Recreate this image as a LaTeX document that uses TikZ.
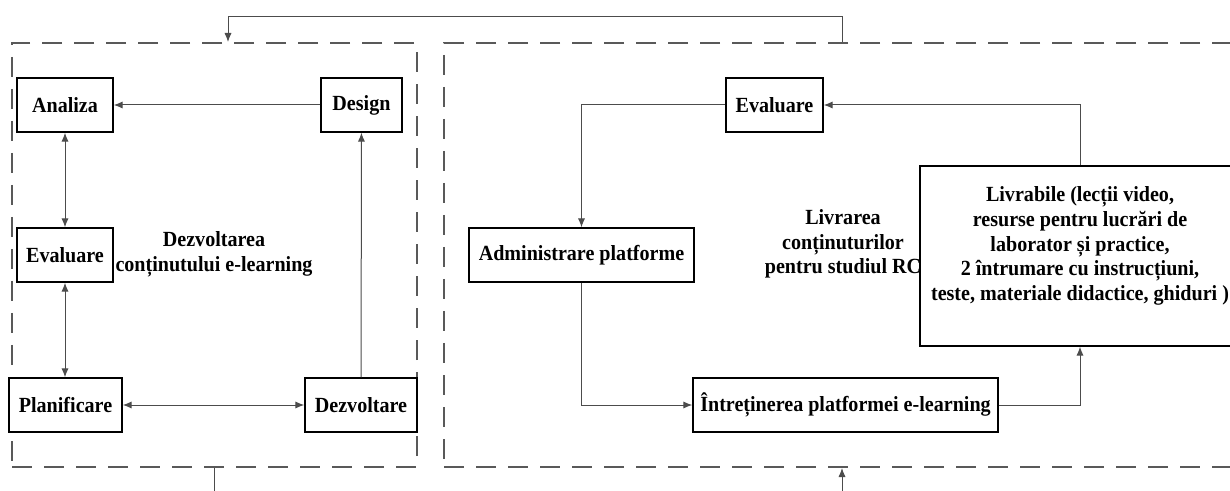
\documentclass[tikz,border=0pt]{standalone}
\usepackage{fontspec}
\setmainfont{Liberation Serif}
\newfontfamily\boxfont[FakeStretch=0.93]{Liberation Serif}
\usetikzlibrary{arrows.meta}

\tikzset{
  block/.style={draw, line width=0.7pt, fill=white, minimum height=27pt, inner sep=2pt,
    font=\boxfont\fontsize{10.8}{12.3}\selectfont\bfseries},
  label/.style={align=center, font=\boxfont\fontsize{10.8}{12.3}\selectfont\bfseries},
  group/.style={draw=black!65, line width=1pt, dash pattern=on 10pt off 6pt},
  conn/.style={draw=black!70, line width=0.5pt},
}

\begin{document}
\begin{tikzpicture}[x=0.5pt,y=-0.5pt,>={Latex[length=4.5pt,width=3.6pt]}]
  \useasboundingbox (0,0) rectangle (1230,491);

  % the two dashed parts
  \node[group, minimum width=202.5pt, minimum height=212pt] (dev) at (214.5,255) {};
  \node[group, minimum width=403pt, minimum height=212pt] (deliv) at (847,255) {};

  % texts of the parts
  \node[label] (devtext) at (214,254) {Dezvoltarea\\conținutului e-learning};
  \node[label] (delivtext) at (843,244) {Livrarea\\conținuturilor\\pentru studiul RC};

  % left part
  \node[block, minimum width=48pt] (analiza) at (65,105) {Analiza};
  \node[block, minimum width=40.5pt] (design) at (361.5,105) {Design};
  \node[block, minimum width=48pt] (evalL) at (65,255) {Evaluare};
  \node[block, minimum width=56.5pt] (planif) at (65.5,405) {Planificare};
  \node[block, minimum width=56pt] (dezv) at (361,405) {Dezvoltare};

  % right part
  \node[block, minimum width=48.5pt] (evalR) at (774.5,105) {Evaluare};
  \node[block, minimum width=112.5pt] (admin) at (581.5,255) {Administrare platforme};
  \node[block, minimum width=152.5pt] (intret) at (845.5,405) {Întreținerea platformei e-learning};
  \node[block, align=center, minimum width=160pt, minimum height=90pt] (livr) at (1080,256)
    {Livrabile (lecții video,\\resurse pentru lucrări de\\laborator și practice,\\
     2 întrumare cu instrucțiuni,\\teste, materiale didactice, ghiduri )\\\mbox{}};

  % arrows of the left part
  \draw[conn,->] (design) -- (analiza);
  \draw[conn,<->] (analiza) -- (evalL);
  \draw[conn,<->] (evalL) -- (planif.north -| evalL);
  \draw[conn,<->] (planif) -- (dezv);
  \draw[conn,->] (dezv) -- (design);

  % arrows of the right part
  \draw[conn,->] (evalR.west) -| (admin.north);
  \draw[conn,->] (admin.south) |- (intret.west);
  \draw[conn,->] (intret.east) -| (livr.south);
  \draw[conn,->] (livr.north) |- (evalR.east);

  % links between the parts
  \coordinate (fbR) at (842,17);
  \coordinate (fbL) at (228,17);
  \coordinate (btm) at (842,515);
  \draw[conn,->] (fbR |- deliv.north) -- (fbR) -- (fbL) -- (fbL |- dev.north);
  \draw[conn,->] (dev.south) |- (btm) -- (btm |- deliv.south);
\end{tikzpicture}
\end{document}
